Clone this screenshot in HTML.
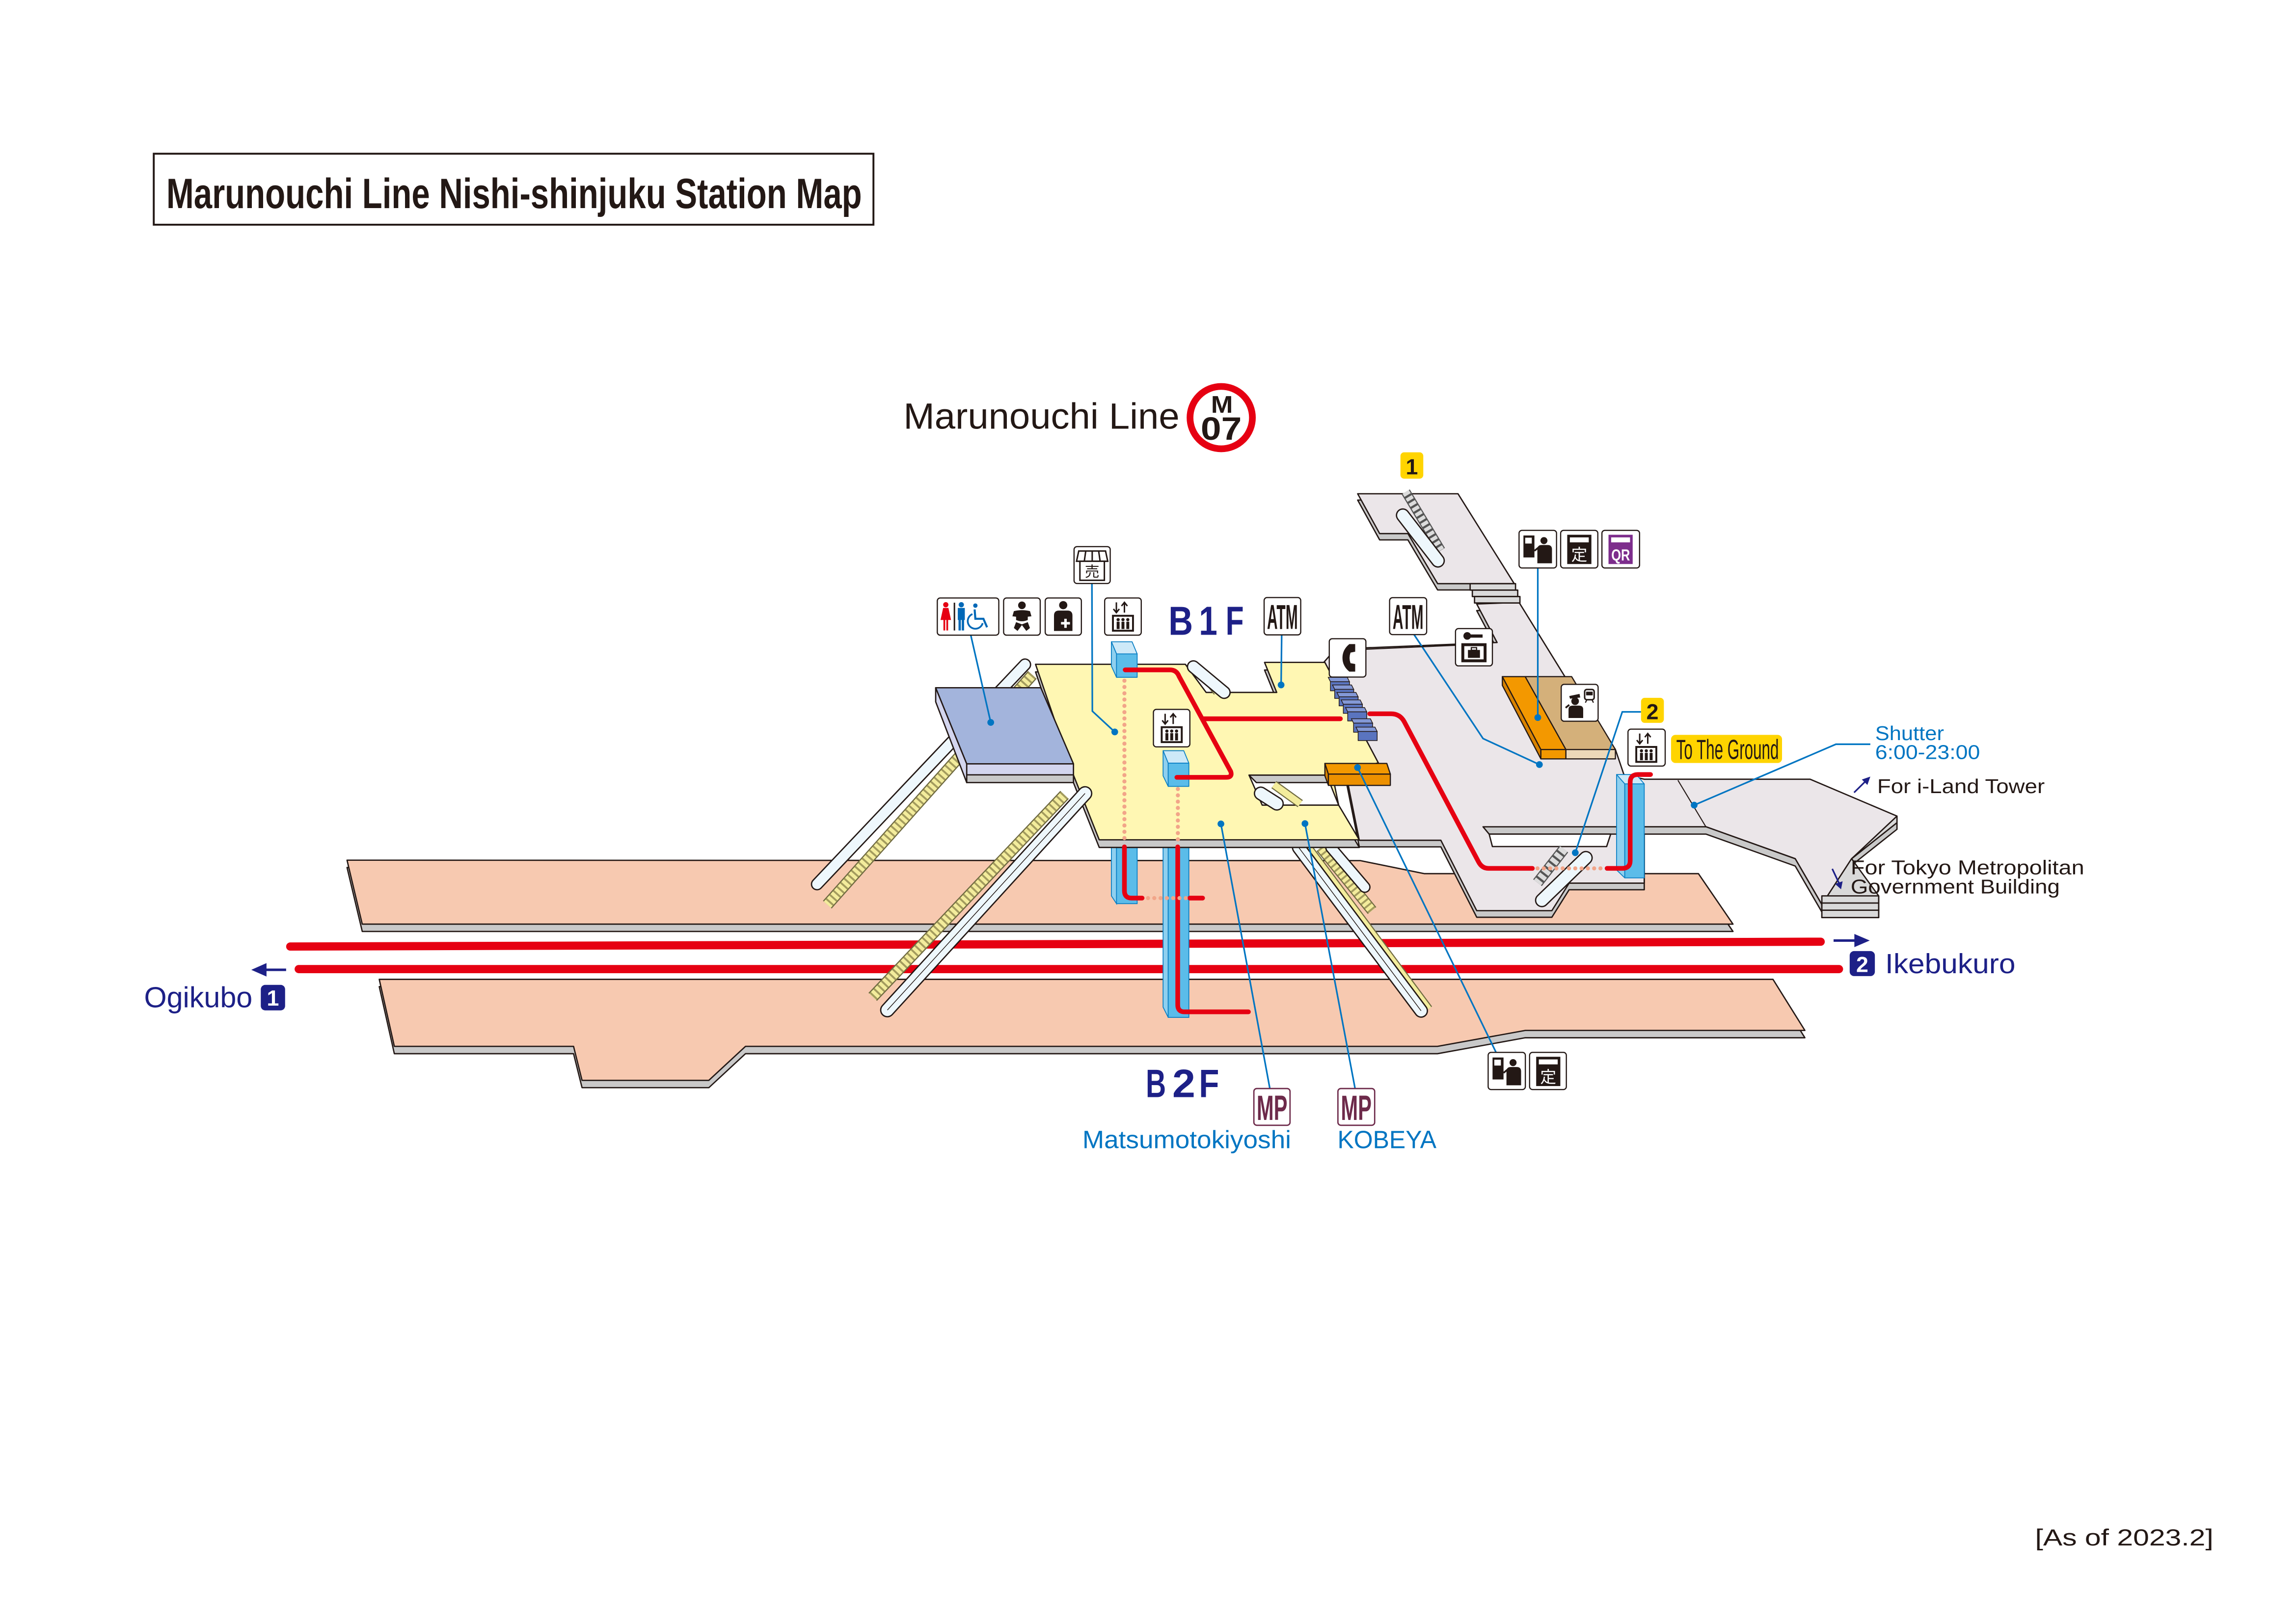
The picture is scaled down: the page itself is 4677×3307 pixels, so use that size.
<!DOCTYPE html>
<html><head><meta charset="utf-8"><style>
html,body{margin:0;padding:0;background:#fff;}
svg{display:block;}
text{font-family:"Liberation Sans","Noto Sans CJK JP",sans-serif;}
</style></head><body>
<svg xmlns="http://www.w3.org/2000/svg" width="4677" height="3307" viewBox="0 0 1568 1108.7">
<rect x="0" y="0" width="1568" height="1108.7" fill="#fff"/>

<!-- Title -->
<rect x="105" y="105" width="491.5" height="48.5" fill="none" stroke="#231815" stroke-width="1.3"/>
<text x="113.6" y="142.2" font-size="29" font-weight="bold" fill="#231815" textLength="475" lengthAdjust="spacingAndGlyphs">Marunouchi Line Nishi-shinjuku Station Map</text>

<!-- Line name -->
<text x="617" y="292.8" font-size="25" fill="#231815" textLength="188.5" lengthAdjust="spacingAndGlyphs">Marunouchi Line</text>
<circle cx="834" cy="285.3" r="21.3" fill="#fff" stroke="#e60012" stroke-width="4.6"/>
<text x="827" y="282" font-size="16.5" font-weight="bold" fill="#231815" textLength="15" lengthAdjust="spacingAndGlyphs">M</text>
<text x="820" y="300.4" font-size="22" font-weight="bold" fill="#231815" textLength="28" lengthAdjust="spacingAndGlyphs">07</text>

<!-- Platforms -->
<g stroke="#231815" stroke-width="0.9" stroke-linejoin="round">
<path transform="translate(0,5)" d="M237,587.6 L929,587.9 L972.6,596.8 L1159.9,596.8 L1183.5,631.3 L247.4,631.3 Z" fill="#c9c9c9"/>
<path d="M237,587.6 L929,587.9 L972.6,596.8 L1159.9,596.8 L1183.5,631.3 L247.4,631.3 Z" fill="#f7c9b0"/>
<path transform="translate(0,5)" d="M259,669 L1210.8,669 L1232.6,703.9 L1041.7,703.9 L981.7,714.8 L509.1,714.8 L484.1,738 L397.5,738 L391.7,714.8 L269.3,714.8 Z" fill="#c9c9c9"/>
<path d="M259,669 L1210.8,669 L1232.6,703.9 L1041.7,703.9 L981.7,714.8 L509.1,714.8 L484.1,738 L397.5,738 L391.7,714.8 L269.3,714.8 Z" fill="#f7c9b0"/>
</g>

<!-- Tracks -->
<line x1="198.2" y1="646.6" x2="1243.4" y2="643.3" stroke="#e60012" stroke-width="5.6" stroke-linecap="round"/>
<line x1="204" y1="662" x2="1255.9" y2="662" stroke="#e60012" stroke-width="5.6" stroke-linecap="round"/>

<!-- Direction labels -->
<line x1="181" y1="662.5" x2="195.4" y2="662.5" stroke="#1d2087" stroke-width="1.7"/>
<polygon points="171.6,662.5 182,657.9 182,667.1" fill="#1d2087"/>
<text x="98.4" y="688.2" font-size="20" fill="#1d2087" textLength="74" lengthAdjust="spacingAndGlyphs">Ogikubo</text>
<rect x="178.1" y="672.8" width="16.6" height="17.4" rx="3" fill="#1d2087"/>
<text x="186.4" y="687" font-size="15" font-weight="bold" fill="#fff" text-anchor="middle">1</text>

<line x1="1252.2" y1="642.5" x2="1267.5" y2="642.5" stroke="#1d2087" stroke-width="1.7"/>
<polygon points="1276.9,642.5 1266.4,638 1266.4,647" fill="#1d2087"/>
<rect x="1263.2" y="649.7" width="17.2" height="17.1" rx="3" fill="#1d2087"/>
<text x="1271.8" y="664" font-size="15" font-weight="bold" fill="#fff" text-anchor="middle">2</text>
<text x="1287.4" y="664.8" font-size="19" fill="#1d2087" textLength="89" lengthAdjust="spacingAndGlyphs">Ikebukuro</text>

<!-- Elevator shafts -->
<g stroke="#0a7fc4" stroke-width="0.6">
<path d="M759,578.9 L762.5,578.9 L762.5,617.3 L759,612 Z" fill="#8fd0ef"/>
<rect x="762.5" y="578.9" width="14.1" height="38.4" fill="#5bbce9"/>
<path d="M794.3,578.9 L797.8,578.9 L797.8,695 L794.3,688 Z" fill="#8fd0ef"/>
<rect x="797.8" y="578.9" width="14.1" height="116.1" fill="#5bbce9"/>
</g>

<!-- Escalator D (short) -->
<line x1="902" y1="579" x2="937" y2="622" stroke="#6f6a40" stroke-width="7.5"/>
<line x1="902" y1="579" x2="937" y2="622" stroke="#f3ec9c" stroke-width="6"/>
<line x1="902" y1="579" x2="937" y2="622" stroke="#a39b5e" stroke-width="6" stroke-dasharray="1.3 2.3"/>
<line x1="909" y1="579" x2="932" y2="606" stroke="#231815" stroke-width="8" stroke-linecap="round"/>
<line x1="909" y1="579" x2="932" y2="606" stroke="#eef7fc" stroke-width="6.2" stroke-linecap="round"/>

<!-- Escalator C (long) -->
<line x1="894" y1="579" x2="976" y2="689" stroke="#6f6a40" stroke-width="5"/>
<line x1="894" y1="579" x2="976" y2="689" stroke="#f3ec9c" stroke-width="3.5"/>
<line x1="887" y1="579" x2="970.5" y2="690.5" stroke="#231815" stroke-width="9.5" stroke-linecap="round"/>
<line x1="887" y1="579" x2="970.5" y2="690.5" stroke="#eef7fc" stroke-width="7.7" stroke-linecap="round"/>
<line x1="887" y1="579" x2="970.5" y2="690.5" stroke="#231815" stroke-width="0.5"/>

<!-- Grey concourse (east) -->
<g stroke="#231815" stroke-width="0.9" stroke-linejoin="round">
<path transform="translate(0,4.5)" d="M904,452.5 L912,443.4 L1022.4,438.9 L1008.5,412.6 L1037.4,411.5 L1068.4,461.7 L1103.2,512 L1109,529.1 L1122.9,532.3 L1236.2,532.3 L1295.5,557.5 L1295.5,562 L1264.5,586.6 L1244.2,617.9 L1226,586.6 L1165.1,564.8 L1122.9,564.8 L1122.9,603.3 L1071.6,603.3 L1059.8,622.1 L1008.5,622.1 L984,574 L928.3,574 Z" fill="#c9c9c9"/>
<path d="M904,452.5 L912,443.4 L1022.4,438.9 L1008.5,412.6 L1037.4,411.5 L1068.4,461.7 L1103.2,512 L1109,529.1 L1122.9,532.3 L1236.2,532.3 L1295.5,557.5 L1295.5,562 L1264.5,586.6 L1244.2,617.9 L1226,586.6 L1165.1,564.8 L1122.9,564.8 L1122.9,603.3 L1071.6,603.3 L1059.8,622.1 L1008.5,622.1 L984,574 L928.3,574 Z" fill="#ebe6e9"/>
<path d="M1012.8,564.8 L1165.1,564.8 L1226,586.6 L1244.2,617.9 L1244.2,623 L1226,591.6 L1165.1,569.8 L1017,569.8 Z" fill="#c9c9c9"/>
<path d="M1017,569.8 L1100,569.8 L1097.2,578.3 L1019.2,578.3 Z" fill="#fff"/>
<path d="M1295.5,557.5 L1295.5,562 L1264.5,586.6 L1283,612 L1283,626.8 L1244.2,626.8 L1244.2,617.9 L1264.5,586.6 Z" fill="#d9d9d9"/>
<rect x="1244.2" y="612" width="38.8" height="4.9" fill="#d9d9d9"/>
<rect x="1244.2" y="616.9" width="38.8" height="4.9" fill="#d9d9d9"/>
<rect x="1244.2" y="621.8" width="38.8" height="5" fill="#d9d9d9"/>
<path transform="translate(0,4.3)" d="M927.2,337.3 L995.7,337.3 L1034.1,398.7 L981.8,398.7 L961.5,364.5 L942.2,364.5 Z" fill="#c9c9c9"/>
<path d="M927.2,337.3 L995.7,337.3 L1034.1,398.7 L981.8,398.7 L961.5,364.5 L942.2,364.5 Z" fill="#ebe6e9"/>
<rect x="1004" y="398.7" width="31" height="4.4" fill="#d9d9d9"/>
<rect x="1005.5" y="403.1" width="31" height="4.4" fill="#d9d9d9"/>
<rect x="1007" y="407.5" width="31" height="4.4" fill="#d9d9d9"/>
</g>
<line x1="1145.9" y1="533" x2="1165" y2="564.8" stroke="#231815" stroke-width="0.7"/>

<!-- Escalator E (exit 1) -->
<line x1="960" y1="336" x2="984" y2="376" stroke="#555" stroke-width="6.5"/>
<line x1="960" y1="336" x2="984" y2="376" stroke="#dcdcdc" stroke-width="5" stroke-dasharray="2.5 1.5"/>
<line x1="958" y1="352" x2="982" y2="383" stroke="#231815" stroke-width="9.5" stroke-linecap="round"/>
<line x1="958" y1="352" x2="982" y2="383" stroke="#eef7fc" stroke-width="7.7" stroke-linecap="round"/>

<!-- Escalator H (exit 2 lower) -->
<line x1="1068" y1="580" x2="1050" y2="603" stroke="#555" stroke-width="7.5"/>
<line x1="1068" y1="580" x2="1050" y2="603" stroke="#dcdcdc" stroke-width="6" stroke-dasharray="3 1.5"/>
<line x1="1083" y1="586" x2="1053" y2="615" stroke="#231815" stroke-width="9.5" stroke-linecap="round"/>
<line x1="1083" y1="586" x2="1053" y2="615" stroke="#eef7fc" stroke-width="7.7" stroke-linecap="round"/>

<!-- Ticket office box -->
<g stroke="#231815" stroke-width="0.8" stroke-linejoin="round">
<path d="M1026,462.2 L1052.3,512 L1052.3,518.4 L1026,468.2 Z" fill="#d98300"/>
<path d="M1026,462.2 L1041.6,462.2 L1069.4,512 L1052.3,512 Z" fill="#f39800"/>
<path d="M1041.6,462.2 L1073.3,462.2 L1103.2,512 L1069.4,512 Z" fill="#d4b07a"/>
<rect x="1052.3" y="512" width="17.1" height="6.4" fill="#f39800"/>
<rect x="1069.4" y="512" width="33.8" height="6.4" fill="#ecd8b8"/>
</g>

<!-- Yellow B1F area -->
<g stroke="#231815" stroke-width="0.9" stroke-linejoin="round">
<path transform="translate(0,5.2)" d="M707.2,453.8 L809.5,453.8 L823.7,473 L871.9,473 L863.6,452.5 L904.8,452.5 L941.3,521.1 L910,529.5 L914.2,550 L928.3,573.7 L750.7,573.7 L733.1,529.5 Z" fill="#c9c9c9"/>
<path d="M707.2,453.8 L809.5,453.8 L823.7,473 L871.9,473 L863.6,452.5 L904.8,452.5 L941.3,521.1 L910,529.5 L914.2,550 L928.3,573.7 L750.7,573.7 L733.1,529.5 Z" fill="#fff7b3"/>
<path d="M853,529.5 L906,529.5 L914.2,550 L862,550 Z" fill="#fff"/>
<path d="M853,529.5 L906,529.5 L909.5,534.6 L858,534.6 Z" fill="#c9c9c9"/>
</g>
<!-- escalator G in opening -->
<line x1="870" y1="536" x2="888" y2="549" stroke="#6f6a40" stroke-width="6"/>
<line x1="870" y1="536" x2="888" y2="549" stroke="#f3ec9c" stroke-width="4.5"/>
<line x1="861" y1="542" x2="872" y2="549" stroke="#231815" stroke-width="9.5" stroke-linecap="round"/>
<line x1="861" y1="542" x2="872" y2="549" stroke="#eef7fc" stroke-width="7.7" stroke-linecap="round"/>

<!-- Escalator F (notch) -->
<line x1="823" y1="463" x2="831" y2="473" stroke="#6f6a40" stroke-width="5"/>
<line x1="823" y1="463" x2="831" y2="473" stroke="#f3ec9c" stroke-width="3.6"/>
<line x1="815" y1="455.5" x2="836" y2="473" stroke="#231815" stroke-width="9" stroke-linecap="round"/>
<line x1="815" y1="455.5" x2="836" y2="473" stroke="#eef7fc" stroke-width="7.2" stroke-linecap="round"/>

<!-- Escalator A -->
<line x1="705" y1="461" x2="565" y2="618" stroke="#6f6a40" stroke-width="8"/>
<line x1="705" y1="461" x2="565" y2="618" stroke="#f3ec9c" stroke-width="6.4"/>
<line x1="705" y1="461" x2="565" y2="618" stroke="#a39b5e" stroke-width="6.4" stroke-dasharray="1.3 2.4"/>
<line x1="700" y1="454" x2="558" y2="604" stroke="#231815" stroke-width="8.5" stroke-linecap="round"/>
<line x1="700" y1="454" x2="558" y2="604" stroke="#eef7fc" stroke-width="6.7" stroke-linecap="round"/>

<!-- Blue box (restroom) -->
<g stroke="#231815" stroke-width="0.9" stroke-linejoin="round">
<path d="M639,469.8 L660.2,521.8 L660.2,534.6 L639,479.4 Z" fill="#d3d5ee"/>
<path d="M639,469.8 L710.8,469.8 L733.1,521.8 L660.2,521.8 Z" fill="#a3b4dc"/>
<rect x="660.2" y="521.8" width="72.9" height="7.5" fill="#d3d5ee"/>
<rect x="660.2" y="529.3" width="72.9" height="5.3" fill="#c9c9c9"/>
</g>

<!-- Escalator B (long, crossing tracks) -->
<line x1="727" y1="543" x2="596" y2="681" stroke="#6f6a40" stroke-width="8"/>
<line x1="727" y1="543" x2="596" y2="681" stroke="#f3ec9c" stroke-width="6.4"/>
<line x1="727" y1="543" x2="596" y2="681" stroke="#a39b5e" stroke-width="6.4" stroke-dasharray="1.3 2.4"/>
<line x1="741" y1="542" x2="606" y2="690" stroke="#231815" stroke-width="10" stroke-linecap="round"/>
<line x1="741" y1="542" x2="606" y2="690" stroke="#eef7fc" stroke-width="8.2" stroke-linecap="round"/>
<line x1="741" y1="542" x2="606" y2="690" stroke="#231815" stroke-width="0.5"/>

<!-- Elevator boxes -->
<g stroke="#0a7fc4" stroke-width="0.6" stroke-linejoin="round">
<path d="M759,438.4 L773.1,438.4 L776.6,446.7 L762.5,446.7 Z" fill="#cde9f8"/>
<path d="M759,438.4 L762.5,446.7 L762.5,462.7 L759,455 Z" fill="#8fd0ef"/>
<rect x="762.5" y="446.7" width="14.1" height="16" fill="#5bbce9"/>
<path d="M794.3,512.8 L808.4,512.8 L811.9,521.3 L797.8,521.3 Z" fill="#cde9f8"/>
<path d="M794.3,512.8 L797.8,521.3 L797.8,537.2 L794.3,530 Z" fill="#8fd0ef"/>
<rect x="797.8" y="521.3" width="14.1" height="15.9" fill="#5bbce9"/>
<path d="M1104,529.1 L1117.5,529.1 L1122.9,535.5 L1109.6,535.5 Z" fill="#cde9f8"/>
<path d="M1104,529.1 L1109.6,535.5 L1109.6,599.7 L1104,594.3 Z" fill="#8fd0ef"/>
<rect x="1109.6" y="535.5" width="13.3" height="64.2" fill="#5bbce9"/>
</g>

<!-- Gates -->
<g stroke="#231815" stroke-width="0.5">
<path d="M907.1,462.7 h13 l1.5,3 h-13 z" fill="#8398d6"/><rect x="908.6" y="465.7" width="13" height="6.2" fill="#5a74bf"/>
<path d="M910,467.9 h13 l1.5,3 h-13 z" fill="#8398d6"/><rect x="911.5" y="470.9" width="13" height="6.2" fill="#5a74bf"/>
<path d="M913,473 h13 l1.5,3 h-13 z" fill="#8398d6"/><rect x="914.5" y="476" width="13" height="6.2" fill="#5a74bf"/>
<path d="M915.9,478.1 h13 l1.5,3 h-13 z" fill="#8398d6"/><rect x="917.4" y="481.1" width="13" height="6.2" fill="#5a74bf"/>
<path d="M918.9,483.3 h13 l1.5,3 h-13 z" fill="#8398d6"/><rect x="920.4" y="486.3" width="13" height="6.2" fill="#5a74bf"/>
<path d="M922.9,491 h13 l1.5,3 h-13 z" fill="#8398d6"/><rect x="924.4" y="494" width="13" height="6.2" fill="#5a74bf"/>
<path d="M926,496.7 h13 l1.5,3 h-13 z" fill="#8398d6"/><rect x="927.5" y="499.7" width="13" height="6.2" fill="#5a74bf"/>
</g>

<!-- Orange box -->
<g stroke="#231815" stroke-width="0.8" stroke-linejoin="round">
<path d="M904.8,521.5 L907.2,528.8 L907.2,536.5 L904.8,530 Z" fill="#d98300"/>
<path d="M904.8,521.5 L947.1,521.5 L949.5,528.8 L907.2,528.8 Z" fill="#f39800"/>
<rect x="907.2" y="528.8" width="42.3" height="7.7" fill="#ec9000"/>
</g>

<!-- Red routes -->
<g fill="none" stroke="#e60012" stroke-width="3.2" stroke-linecap="round" stroke-linejoin="round">
<path d="M768.4,457.6 L799,457.6 Q803.5,457.6 805.2,462 L840.5,527 Q841.8,531 837.5,531 L803.7,531"/>
<path d="M822,491 L915.4,491"/>
<path d="M935.4,487.6 L950,487.6 Q956,487.6 959,493 L1009.6,588.5 Q1012,593.2 1016.5,593.2 L1046.5,593.2"/>
<path d="M1097.5,593.2 L1108,593.2 Q1113.3,593.2 1113.3,587.9 L1113.3,534.4 Q1113.3,529.1 1118.5,529.1 L1127.2,529.1"/>
<path d="M767.9,578.5 L767.9,608.5 Q767.9,613.5 772.9,613.5 L780,613.5"/>
<path d="M812.5,613.5 L821.3,613.5"/>
<path d="M804.3,578.5 L804.3,686.5 Q804.3,691.2 809,691.2 L852.6,691.2"/>
</g>
<g fill="none" stroke="#f2a589" stroke-width="2.8" stroke-linecap="round" stroke-dasharray="0 4.3">
<path d="M767.9,465 L767.9,576"/>
<path d="M804.4,539 L804.4,576"/>
<path d="M784,613.5 L810,613.5"/>
<path d="M1050,593.2 L1095,593.2"/>
</g>

<!-- Leader lines -->
<g fill="none" stroke="#0075c2" stroke-width="1.1">
<path d="M663,434 L676.6,493.5"/>
<path d="M745.7,398.6 L746,485.8 L761.3,500"/>
<path d="M875.3,433.7 L874.9,467.9"/>
<path d="M965.7,433.5 L1012.8,504.5 L1051.3,522.3"/>
<path d="M1050.2,388 L1050.2,490.2"/>
<path d="M1120.7,486.3 L1107.9,486.3 L1075.8,582.5"/>
<path d="M1157,550 L1253.8,508.4 L1277.3,508.4"/>
<path d="M833.8,562.8 L867.2,743.5"/>
<path d="M891.2,562.6 L925.4,743.5"/>
<path d="M927.1,524.3 L1021.7,718.9"/>
</g>
<g fill="#0075c2">
<circle cx="676.6" cy="493.5" r="2.3"/>
<circle cx="761.3" cy="500" r="2.3"/>
<circle cx="874.9" cy="467.9" r="2.3"/>
<circle cx="1051.3" cy="522.3" r="2.3"/>
<circle cx="1050.2" cy="490.2" r="2.3"/>
<circle cx="1075.8" cy="582.5" r="2.3"/>
<circle cx="1157" cy="550" r="2.3"/>
<circle cx="833.8" cy="562.8" r="2.3"/>
<circle cx="891.2" cy="562.6" r="2.3"/>
<circle cx="927.1" cy="524.3" r="2.3"/>
</g>
<line x1="932.8" y1="443.5" x2="994" y2="440.8" stroke="#231815" stroke-width="0.8"/>

<!-- Exit badges -->
<rect x="956.4" y="309" width="15.6" height="18" rx="2.5" fill="#ffd400"/>
<text x="964.2" y="324" font-size="15" font-weight="bold" fill="#231815" text-anchor="middle">1</text>
<rect x="1120.7" y="476.7" width="15.6" height="17.1" rx="2.5" fill="#ffd400"/>
<text x="1128.5" y="491.3" font-size="15" font-weight="bold" fill="#231815" text-anchor="middle">2</text>
<rect x="1141.2" y="502" width="75.8" height="19.2" rx="3" fill="#ffd400"/>
<text x="1144.8" y="518.5" font-size="19" fill="#231815" textLength="70" lengthAdjust="spacingAndGlyphs">To The Ground</text>

<!-- Icons -->
<g stroke="#231815" stroke-width="0.8" fill="#fff">
<rect x="640.1" y="408.5" width="42" height="25.4" rx="2"/>
<rect x="685.4" y="408.5" width="25" height="25.4" rx="2"/>
<rect x="713.8" y="408.5" width="24.7" height="25.4" rx="2"/>
<rect x="754.4" y="408.5" width="25" height="25.4" rx="2"/>
<rect x="733.5" y="373.4" width="24.7" height="25.2" rx="2"/>
<rect x="863.3" y="408.2" width="25" height="25.5" rx="2"/>
<rect x="949" y="408.3" width="25.3" height="25.2" rx="2"/>
<rect x="907.8" y="436.3" width="25" height="26.2" rx="2"/>
<rect x="994" y="429.4" width="25.2" height="25.5" rx="2"/>
<rect x="1037.4" y="362.3" width="25.6" height="25.7" rx="2"/>
<rect x="1065.8" y="362.3" width="25.4" height="25.7" rx="2"/>
<rect x="1094" y="362.3" width="25.7" height="25.7" rx="2"/>
<rect x="1066.2" y="467.5" width="25.2" height="25.2" rx="2"/>
<rect x="787.7" y="484.6" width="24.9" height="25.6" rx="2"/>
<rect x="1111.8" y="498.1" width="25.4" height="25.2" rx="2"/>
<rect x="1016.3" y="718.9" width="25.4" height="25.4" rx="2"/>
<rect x="1044.6" y="718.9" width="25.1" height="25.4" rx="2"/>
</g>

<!-- restroom pictogram -->
<g transform="translate(640.1,408.5)">
<circle cx="5.8" cy="4.6" r="1.8" fill="#e60012"/>
<path d="M4,6.8 L7.6,6.8 L9.4,15 L2.2,15 Z M4.2,15 h1.2 v7.2 h-1.2Z M6.2,15 h1.2 v7.2 h-1.2Z" fill="#e60012"/>
<rect x="11.2" y="3.2" width="1" height="19" fill="#231815"/>
<circle cx="16.4" cy="4.6" r="1.8" fill="#0068b7"/>
<path d="M14,6.8 h4.8 v8.2 h-4.8Z M14.5,15 h1.6 v7.2 h-1.6Z M16.7,15 h1.6 v7.2 h-1.6Z" fill="#0068b7"/>
<circle cx="26" cy="5.2" r="1.5" fill="#0068b7"/>
<path d="M25.5,7.8 L26,14.2 L31.5,14.2 L34,20" fill="none" stroke="#0068b7" stroke-width="1.4"/>
<path d="M24,11 A5.2,5.2 0 1 0 31,17.2" fill="none" stroke="#0068b7" stroke-width="1.2"/>
</g>
<!-- baby -->
<g transform="translate(685.4,408.5)" fill="#231815">
<circle cx="12.5" cy="5" r="2.6"/>
<path d="M7,9 Q12.5,7.6 18,9 L19,12.5 L16.5,12.8 L16.5,15 Q12.5,16.8 8.5,15 L8.5,12.8 L6,12.5 Z"/>
<path d="M8.5,16.5 L7,20.5 L9.5,22.5 L12.5,18.5 L15.5,22.5 L18,20.5 L16.5,16.5 L12.5,18 Z"/>
</g>
<!-- first aid -->
<g transform="translate(713.8,408.5)">
<circle cx="12.3" cy="4.9" r="2.8" fill="#231815"/>
<path d="M6,22.5 L6,12 Q6,8.6 9.4,8.6 L15.2,8.6 Q18.6,8.6 18.6,12 L18.6,22.5 Z" fill="#231815"/>
<rect x="13" y="14.2" width="1.7" height="6.2" fill="#fff"/>
<rect x="10.8" y="16.4" width="6.1" height="1.7" fill="#fff"/>
</g>
<!-- elevator icons -->
<g transform="translate(754.4,408.5)">
<path d="M8,3 V9.5 M6,7.5 L8,10 L10,7.5 M13.5,10 V3.5 M11.5,5.5 L13.5,3 L15.5,5.5" fill="none" stroke="#231815" stroke-width="1"/>
<rect x="5" y="11.5" width="15" height="11.5" fill="#231815"/>
<rect x="6.3" y="12.8" width="12.4" height="8.9" fill="#fff"/>
<g fill="#231815"><circle cx="9.2" cy="14.8" r="1.1"/><circle cx="12.5" cy="14.8" r="1.1"/><circle cx="15.8" cy="14.8" r="1.1"/>
<rect x="8.2" y="16.2" width="2" height="5"/><rect x="11.5" y="16.2" width="2" height="5"/><rect x="14.8" y="16.2" width="2" height="5"/></g>
</g>
<g transform="translate(787.7,484.6)">
<path d="M8,3 V9.5 M6,7.5 L8,10 L10,7.5 M13.5,10 V3.5 M11.5,5.5 L13.5,3 L15.5,5.5" fill="none" stroke="#231815" stroke-width="1"/>
<rect x="5" y="11.5" width="15" height="11.5" fill="#231815"/>
<rect x="6.3" y="12.8" width="12.4" height="8.9" fill="#fff"/>
<g fill="#231815"><circle cx="9.2" cy="14.8" r="1.1"/><circle cx="12.5" cy="14.8" r="1.1"/><circle cx="15.8" cy="14.8" r="1.1"/>
<rect x="8.2" y="16.2" width="2" height="5"/><rect x="11.5" y="16.2" width="2" height="5"/><rect x="14.8" y="16.2" width="2" height="5"/></g>
</g>
<g transform="translate(1111.8,498.1)">
<path d="M8,3 V9.5 M6,7.5 L8,10 L10,7.5 M13.5,10 V3.5 M11.5,5.5 L13.5,3 L15.5,5.5" fill="none" stroke="#231815" stroke-width="1"/>
<rect x="5" y="11.5" width="15" height="11.5" fill="#231815"/>
<rect x="6.3" y="12.8" width="12.4" height="8.9" fill="#fff"/>
<g fill="#231815"><circle cx="9.2" cy="14.8" r="1.1"/><circle cx="12.5" cy="14.8" r="1.1"/><circle cx="15.8" cy="14.8" r="1.1"/>
<rect x="8.2" y="16.2" width="2" height="5"/><rect x="11.5" y="16.2" width="2" height="5"/><rect x="14.8" y="16.2" width="2" height="5"/></g>
</g>
<!-- shop -->
<g transform="translate(733.5,373.4)">
<path d="M3.2,3 L21.5,3 L23,10 L1.7,10 Z" fill="#fff" stroke="#231815" stroke-width="1"/>
<path d="M8,3 L7,10 M12.4,3 V10 M16.8,3 L17.8,10" stroke="#231815" stroke-width="1"/>
<rect x="4" y="10" width="16.7" height="13" fill="#fff" stroke="#231815" stroke-width="1"/>
<text x="12.35" y="20.5" font-size="10" fill="#231815" text-anchor="middle" font-family="'Noto Sans CJK JP',sans-serif">売</text>
</g>
<!-- ATM -->
<text x="865.3" y="429.7" font-size="23.5" font-weight="bold" fill="#231815" textLength="21" lengthAdjust="spacingAndGlyphs">ATM</text>
<text x="951.1" y="429.7" font-size="23.5" font-weight="bold" fill="#231815" textLength="21" lengthAdjust="spacingAndGlyphs">ATM</text>
<!-- phone -->
<path d="M921.5,440 L925.5,440 L925.5,445.2 L922.3,445.8 Q921,449.4 922.3,453 L925.5,453.6 L925.5,458.8 L921.5,458.8 Q916.8,455 916.8,449.4 Q916.8,443.8 921.5,440 Z" fill="#231815"/>
<!-- locker -->
<g transform="translate(994,429.4)" fill="#231815">
<circle cx="8" cy="5" r="2.6"/><rect x="9.5" y="4" width="9" height="2.2"/>
<rect x="4" y="10" width="17.2" height="13"/>
<rect x="6" y="12" width="13.2" height="9" fill="#fff"/>
<rect x="8.5" y="14.6" width="8.2" height="5.4"/>
<rect x="10.8" y="13" width="3.6" height="1.8" fill="none" stroke="#231815" stroke-width="0.8"/>
</g>
<!-- ticket machine icons -->
<g transform="translate(1037.4,362.3)" fill="#231815">
<rect x="3" y="3.5" width="7.5" height="15"/><rect x="4.2" y="5" width="4.5" height="4" fill="#fff"/>
<circle cx="17" cy="7" r="2.4"/>
<path d="M12.5,22.5 L12.5,13 Q12.5,10 15.5,10 L19.5,10 Q22.5,10 22.5,13 L22.5,22.5 Z"/>
<path d="M10.5,14 L13.5,11.5" stroke="#231815" stroke-width="1.2"/>
</g>
<g transform="translate(1016.3,718.9)" fill="#231815">
<rect x="3" y="3.5" width="7.5" height="15"/><rect x="4.2" y="5" width="4.5" height="4" fill="#fff"/>
<circle cx="17" cy="7" r="2.4"/>
<path d="M12.5,22.5 L12.5,13 Q12.5,10 15.5,10 L19.5,10 Q22.5,10 22.5,13 L22.5,22.5 Z"/>
<path d="M10.5,14 L13.5,11.5" stroke="#231815" stroke-width="1.2"/>
</g>
<g transform="translate(1065.8,362.3)">
<rect x="4.5" y="3" width="16.5" height="20" fill="#231815"/>
<rect x="6.3" y="4.8" width="12.9" height="3.4" fill="#fff"/>
<text x="12.75" y="20.6" font-size="11" fill="#fff" text-anchor="middle" font-family="'Noto Sans CJK JP',sans-serif">定</text>
</g>
<g transform="translate(1044.6,718.9)">
<rect x="4.5" y="3" width="16.5" height="20" fill="#231815"/>
<rect x="6.3" y="4.8" width="12.9" height="3.4" fill="#fff"/>
<text x="12.75" y="20.6" font-size="11" fill="#fff" text-anchor="middle" font-family="'Noto Sans CJK JP',sans-serif">定</text>
</g>
<g transform="translate(1094,362.3)">
<rect x="4.5" y="3" width="16.5" height="20" fill="#7d2d8c"/>
<rect x="6.3" y="4.8" width="12.9" height="3.4" fill="#fff"/>
<text x="6.4" y="20.6" font-size="11" font-weight="bold" fill="#fff" textLength="12.8" lengthAdjust="spacingAndGlyphs">QR</text>
</g>
<!-- staff icon -->
<g transform="translate(1066.2,467.5)" fill="#231815">
<path d="M5.5,8 L12.5,6.5 L13,9 L6,9.8 Z"/>
<circle cx="9.5" cy="11.5" r="2.6"/>
<path d="M5,23 L5,17 Q5,14.5 8,14.5 L12,14.5 Q15,14.5 15,17 L15,23 Z"/>
<path d="M3,16 L5.5,14" stroke="#231815" stroke-width="1.2"/>
<rect x="16" y="3.5" width="6.5" height="7" rx="1.5" fill="#fff" stroke="#231815" stroke-width="1"/>
<rect x="17" y="5" width="4.5" height="2.5"/>
<path d="M16.5,12.5 L17.5,10.5 M22,12.5 L21,10.5" stroke="#231815" stroke-width="0.8"/>
</g>

<!-- MP icons -->
<rect x="856.3" y="743.6" width="24.7" height="25.1" rx="2" fill="#fff" stroke="#6d2a4a" stroke-width="0.9"/>
<text x="858.2" y="765" font-size="24" font-weight="bold" fill="#6d2a4a" textLength="21" lengthAdjust="spacingAndGlyphs">MP</text>
<rect x="913.7" y="743.6" width="25.1" height="25.1" rx="2" fill="#fff" stroke="#6d2a4a" stroke-width="0.9"/>
<text x="915.7" y="765" font-size="24" font-weight="bold" fill="#6d2a4a" textLength="21" lengthAdjust="spacingAndGlyphs">MP</text>

<!-- Floor labels -->
<text x="798" y="433.7" font-size="27.6" font-weight="bold" fill="#1d2087" textLength="16.7" lengthAdjust="spacingAndGlyphs">B</text>
<text x="818.8" y="433.7" font-size="27.6" font-weight="bold" fill="#1d2087" textLength="12.6" lengthAdjust="spacingAndGlyphs">1</text>
<text x="837" y="433.7" font-size="27.6" font-weight="bold" fill="#1d2087" textLength="12.4" lengthAdjust="spacingAndGlyphs">F</text>
<text x="782.5" y="749.5" font-size="27" font-weight="bold" fill="#1d2087" textLength="13.8" lengthAdjust="spacingAndGlyphs">B</text>
<text x="800.6" y="749.5" font-size="27" font-weight="bold" fill="#1d2087" textLength="15.7" lengthAdjust="spacingAndGlyphs">2</text>
<text x="818.8" y="749.5" font-size="27" font-weight="bold" fill="#1d2087" textLength="13.8" lengthAdjust="spacingAndGlyphs">F</text>

<!-- Shop names -->
<text x="739.2" y="784.3" font-size="17" fill="#0075c2" textLength="142.5" lengthAdjust="spacingAndGlyphs">Matsumotokiyoshi</text>
<text x="913.4" y="784.3" font-size="17" fill="#0075c2" textLength="67.6" lengthAdjust="spacingAndGlyphs">KOBEYA</text>

<!-- Shutter & directions -->
<text x="1280.6" y="505.6" font-size="13.6" fill="#0075c2" textLength="47" lengthAdjust="spacingAndGlyphs">Shutter</text>
<text x="1280.6" y="518.5" font-size="13.6" fill="#0075c2" textLength="71.6" lengthAdjust="spacingAndGlyphs">6:00-23:00</text>
<line x1="1266.2" y1="541.4" x2="1274.5" y2="533.2" stroke="#1d2087" stroke-width="1.1"/>
<polygon points="1277.3,530.5 1271.5,532.5 1275.3,536.2" fill="#1d2087"/>
<text x="1282" y="541.7" font-size="13.8" fill="#231815" textLength="114.4" lengthAdjust="spacingAndGlyphs">For i-Land Tower</text>
<line x1="1251.3" y1="593.5" x2="1256" y2="603.5" stroke="#1d2087" stroke-width="1.1"/>
<polygon points="1257.3,607.5 1253.2,603.8 1258.4,602" fill="#1d2087"/>
<text x="1263.9" y="597.2" font-size="13.8" fill="#231815" textLength="159.5" lengthAdjust="spacingAndGlyphs">For Tokyo Metropolitan</text>
<text x="1263.9" y="610.3" font-size="13.8" fill="#231815" textLength="142.8" lengthAdjust="spacingAndGlyphs">Government Building</text>

<!-- As of -->
<text x="1389.8" y="1055.7" font-size="16" fill="#231815" textLength="121.8" lengthAdjust="spacingAndGlyphs">[As of 2023.2]</text>
</svg>
</body></html>
